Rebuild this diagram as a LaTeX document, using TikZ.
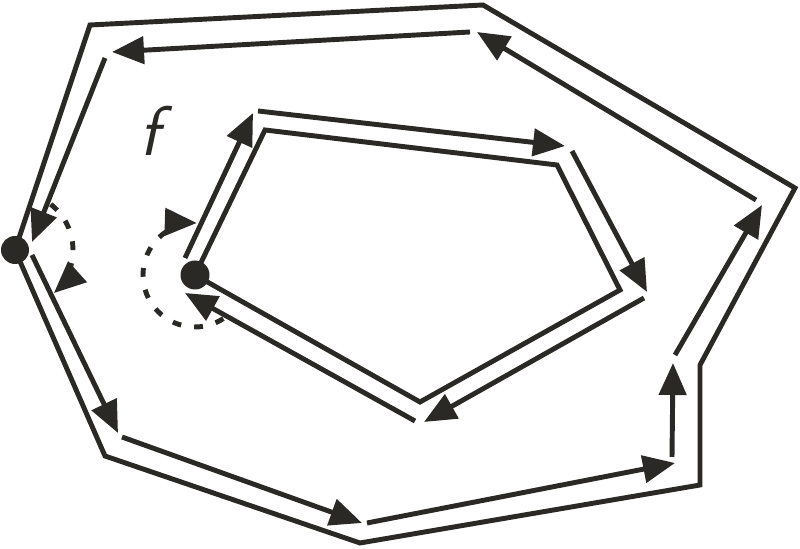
\documentclass[tikz,border=0pt]{standalone}
\usetikzlibrary{arrows.meta}
\definecolor{ttsqrr}{rgb}{0.17,0.16,0.15}

\begin{document}
\begin{tikzpicture}[line join=miter,>={Triangle[length=0.64cm,width=0.54cm]},x=1.0cm,y=1.0cm,color=ttsqrr,line width=2.8pt]
\useasboundingbox (0,0) rectangle (16,10.98);
% outer boundary
\coordinate (A) at (1.8,10.48);
\coordinate (B) at (9.66,10.88);
\coordinate (C) at (15.9,7.22);
\coordinate (D) at (14.0,3.68);
\coordinate (E) at (14.0,1.28);
\coordinate (F) at (7.2,0.12);
\coordinate (G) at (2.1,1.86);
\coordinate (H) at (0.3,5.98);
\draw (A) -- (B) -- (C) -- (D) -- (E) -- (F) -- (G) -- (H) -- cycle;
% inner boundary
\coordinate (P1) at (3.9,5.48);
\coordinate (P2) at (5.3,8.38);
\coordinate (P3) at (11.14,7.68);
\coordinate (P4) at (12.4,5.18);
\coordinate (P5) at (8.4,2.94);
\draw (P1) -- (P2) -- (P3) -- (P4) -- (P5) -- cycle;
% half-edges of the outer cycle
\draw [->] (9.4,10.34)-- (2.24,9.94);
\draw [->] (2.1,9.82)-- (0.64,6.14);
\draw [->] (0.64,5.88)-- (2.36,2.32);
\draw [->] (2.44,2.24)-- (7.24,0.52);
\draw [->] (7.34,0.52)-- (13.5,1.72);
\draw [->] (13.44,1.84)-- (13.46,3.72);
\draw [->] (13.5,3.88)-- (15.24,6.88);
\draw [->] (15.12,6.98)-- (9.54,10.34);
% half-edges of the inner cycle
\draw [->] (3.7,5.82)-- (5.06,8.72);
\draw [->] (5.16,8.76)-- (11.3,8.06);
\draw [->] (11.44,7.96)-- (12.94,5.14);
\draw [->] (12.88,5.02)-- (8.48,2.54);
\draw [->] (8.3,2.56)-- (3.7,5.12);
% next pointers
\draw [dash pattern=on 5pt off 7.5pt,->] (H) ++(52:1.16) arc (52:-48:1.16);
\draw [dash pattern=on 5pt off 7.5pt,->] (P1) ++(-57:1.04) arc (-57:-272:1.04);
\fill (H) circle (0.28);
\fill (P1) circle (0.29);
\draw (3.0,8.36) node {\sffamily\itshape\fontsize{40}{44}\selectfont f};
\end{tikzpicture}
\end{document}
